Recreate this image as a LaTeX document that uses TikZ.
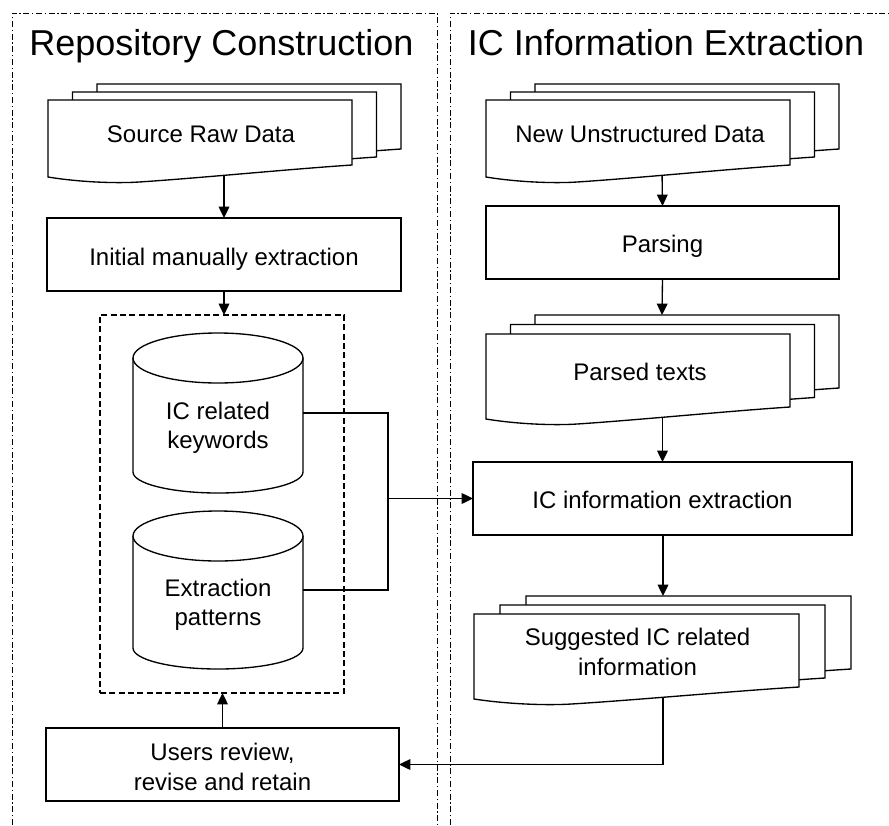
\documentclass[tikz,border=0pt]{standalone}
\usepackage{fontspec}
\setmainfont{Liberation Sans}
\usetikzlibrary{arrows.meta,calc}

\newcommand\docpage[4]{% x0 y0 w h (pixels)
  \filldraw[docline] ({#1},{#2}) -- ({#1+#3},{#2}) -- ({#1+#3},{#2+#4})
    .. controls ({#1+0.8*#3},{#2+#4+4}) and ({#1+0.5*#3},{#2+#4+13}) .. ({#1+0.3*#3},{#2+#4+17})
    .. controls ({#1+0.22*#3},{#2+#4+18.6}) and ({#1+0.1*#3},{#2+#4+17}) .. ({#1},{#2+#4+12}) -- cycle;
}
\newcommand\multidoc[6]{% x0 y0 w h dx dy
  \foreach \k in {2,1,0}{\docpage{#1+\k*#5}{#2-\k*#6}{#3}{#4}}%
}
\newcommand\dbcyl[1]{%
  \filldraw[docline] ($(#1.north west)+(0,25)$) -- ($(#1.south west)+(0,-21)$)
    arc[start angle=180,end angle=0,x radius=85,y radius=21] -- ($(#1.north east)+(0,25)$);
  \draw[docline] ($(#1.north)+(0,25)$) ellipse[x radius=85,y radius=25];
}

\begin{document}
\begin{tikzpicture}[x=0.75pt,y=-0.75pt,
  sz/.style 2 args={minimum width=#1*0.75pt, minimum height=#2*0.75pt},
  docline/.style={draw=black, fill=white, line width=1pt},
  procbox/.style={draw=black, fill=white, line width=1pt, inner sep=0pt, outer sep=0pt,
     font=\fontsize{18}{22}\selectfont, align=center},
  ghost/.style={inner sep=0pt, outer sep=0pt},
  txt/.style={font=\fontsize{18}{22}\selectfont, align=center, inner sep=0pt},
  title/.style={font=\fontsize{27}{32}\selectfont, inner sep=0pt},
  panel/.style={line width=0.75pt, dash pattern=on 4.5pt off 2pt on 1pt off 2pt},
  repobox/.style={draw=black, line width=1pt, dash pattern=on 4.5pt off 2.5pt, inner sep=0pt, outer sep=0pt},
  arr/.style={-{Triangle[length=8.5pt,width=8pt]}, line width=1pt},
  conn/.style={line width=1pt}]

\useasboundingbox (0,0) rectangle (889,825);
\fill[white] (0,0) rectangle (889,825);

% panels
\draw[panel] (12,825) -- (12,13) -- (437,13) -- (437,825);
\draw[panel] (450,825) -- (450,13) -- (889,13);
\node[title, anchor=base] (t1) at (221.5,55) {Repository Construction};
\node[title, anchor=base] (t2) at (666,55) {IC Information Extraction};

% process boxes
\node[procbox, sz={354}{73}] (init) at (224,254.5) {};
\node[txt, anchor=base] (initT) at (224,265) {Initial manually extraction};
\node[procbox, sz={353}{73}] (parsing) at (662.5,242.5) {};
\node[txt, anchor=base] (parsingT) at (662.5,252) {Parsing};
\node[procbox, sz={379}{73}] (ici) at (662.5,498.5) {};
\node[txt, anchor=base] (iciT) at (662.5,508) {IC information extraction};
\node[procbox, sz={353}{73}] (users) at (222.5,764.5) {};
\node[txt] (usersT) at (222.5,767) {Users review,\\revise and retain};

% repository (dashed) with cylinders
\node[repobox, sz={244}{378}] (repo) at (222,504) {};
\node[ghost, sz={170}{160}] (kw) at (218,413) {};
\dbcyl{kw}
\node[txt] (kwT) at (218,428) {IC related\\keywords};
\node[ghost, sz={170}{158}] (pat) at (218,590) {};
\dbcyl{pat}
\node[txt] (patT) at (218,605) {Extraction\\patterns};

% connectors
\draw[conn] (kw.east) -- ++(85,0) coordinate (jn) |- (pat.east);
\draw[arr] (jn |- ici.west) -- (ici.west);
\draw[arr] (init.south) -- (init.south |- repo.north);
\draw[arr] (users.north) -- (users.north |- repo.south);

% doc-related coordinates
\coordinate (srcB) at (224,170);
\coordinate (nudB) at (662,170);
\coordinate (psdTop) at (662,315);
\coordinate (psdB) at (662,412);
\coordinate (sugTop) at (663,596);
\coordinate (sugB) at (663,692);

\draw[arr] (srcB) -- (init.north);
\draw[arr] (nudB) -- (parsing.north);
\draw[arr] (parsing.south) -- (psdTop);
\draw[arr] (psdB) -- (ici.north |- psdB) -- (ici.north);
\draw[arr] (ici.south -| sugTop) -- (sugTop);
\draw[arr] (sugB) |- (users.east);

% multi-documents
\multidoc{48}{100}{304}{65}{24.5}{8}
\node[txt, anchor=base] (srcT) at (201,142) {Source Raw Data};
\multidoc{486}{100}{304}{65}{24.5}{8}
\node[txt, anchor=base] (nudT) at (640,142) {New Unstructured Data};
\multidoc{486}{334}{304}{73}{24.5}{9.5}
\node[txt, anchor=base] (psdT) at (640,380) {Parsed texts};
\multidoc{474}{614}{325}{73}{26}{9}
\node[txt] (sugT) at (637.5,652) {Suggested IC related\\information};

\end{tikzpicture}
\end{document}
